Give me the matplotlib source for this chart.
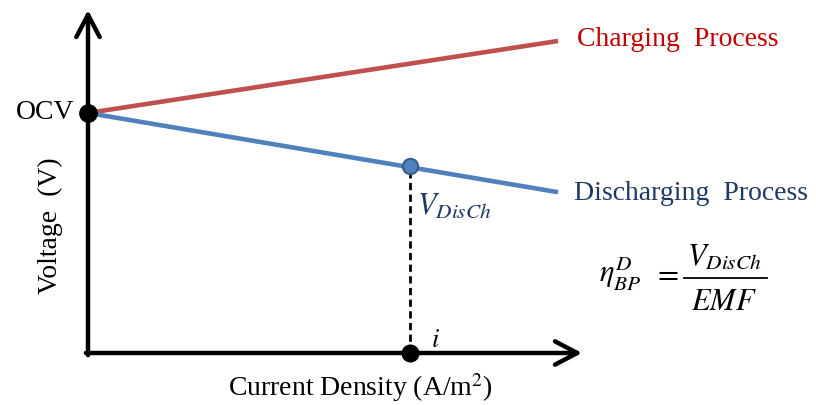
import matplotlib.pyplot as plt

# --- Schematic values (arbitrary units) ---
current_density = [0.0, 1.0]
charging_voltage = [1.0, 1.30]
discharging_voltage = [1.0, 0.67]
ocv = 1.0
i_point = 0.685
v_disch = 0.78

RED = "#C0504D"
BLUE = "#4F81BD"
RED_TEXT = "#C00000"
NAVY = "#1F3864"

plt.rcParams["font.family"] = ["Liberation Serif", "DejaVu Serif"]
plt.rcParams["mathtext.fontset"] = "stix"

fig = plt.figure(figsize=(8.16, 4.05), dpi=100)
W, H = 816, 405
# axes from pixel x 88..582, y 353..10 (origin at the axis corner)
ax = fig.add_axes([88 / W, (H - 353) / H, (582 - 88) / W, (353 - 10) / H])
ax.set_xlim(0, 1.051)
ax.set_ylim(0, 1.429)
ax.axis("off")

# process lines
ax.plot(current_density, charging_voltage, color=RED, lw=3.3, solid_capstyle="butt", zorder=2)
ax.plot(current_density, discharging_voltage, color=BLUE, lw=3.3, solid_capstyle="butt", zorder=2)

# dashed drop line from operating point
ax.plot([i_point, i_point], [0, v_disch], color="black", lw=2.0, ls=(0, (2.6, 1.6)), zorder=2)

# axes with open arrowheads
arrow = dict(arrowstyle="->, head_length=0.8, head_width=0.42", lw=3.2, color="black",
             mutation_scale=20, shrinkA=0, shrinkB=0)
ax.annotate("", xy=(1.051, 0), xytext=(-0.0045, 0), arrowprops=arrow, annotation_clip=False)
ax.annotate("", xy=(0, 1.429), xytext=(0, -0.009), arrowprops=arrow, annotation_clip=False)

# markers
ax.plot([0], [ocv], "o", color="black", ms=12.5, zorder=5, clip_on=False)
ax.plot([i_point], [0], "o", color="black", ms=12, zorder=5, clip_on=False)
ax.plot([i_point], [v_disch], "o", color=BLUE, mec="#385D8A", mew=1.5, ms=11, zorder=5)

# labels
ax.text(-0.03, ocv, "OCV", ha="right", va="center", fontsize=20, clip_on=False)
ax.text(1.04, 1.305, "Charging  Process", color=RED_TEXT, ha="left", va="center",
        fontsize=20, clip_on=False)
ax.text(1.035, 0.665, "Discharging  Process", color=NAVY, ha="left", va="center",
        fontsize=20, clip_on=False)
ax.text(i_point + 0.016, 0.61, r"$V_{DisCh}$", color=NAVY, ha="left", va="center",
        fontsize=22)
ax.text(i_point + 0.045, 0.05, r"$i$", ha="left", va="center", fontsize=19)

# efficiency formula
ax.text(1.087, 0.33, r"$\eta^{D}_{BP}$", ha="left", va="center", fontsize=22, clip_on=False)
ax.text(1.230, 0.325, r"$=$", ha="center", va="center", fontsize=22, clip_on=False)
ax.text(1.353, 0.40, r"$V_{DisCh}$", ha="center", va="center", fontsize=22, clip_on=False)
ax.plot([1.268, 1.445], [0.3125, 0.3125], color="black", lw=1.3, clip_on=False)
ax.text(1.353, 0.21, r"$EMF$", ha="center", va="center", fontsize=22, clip_on=False)

ax.text(0.579, -0.145, "Current Density (A/m$^2$)", ha="center", va="center",
        fontsize=20, clip_on=False)
ax.text(-0.08, 0.53, "Voltage  (V)", ha="center", va="center", rotation=90,
        fontsize=20, clip_on=False)

fig.savefig("out.png", dpi=100)
